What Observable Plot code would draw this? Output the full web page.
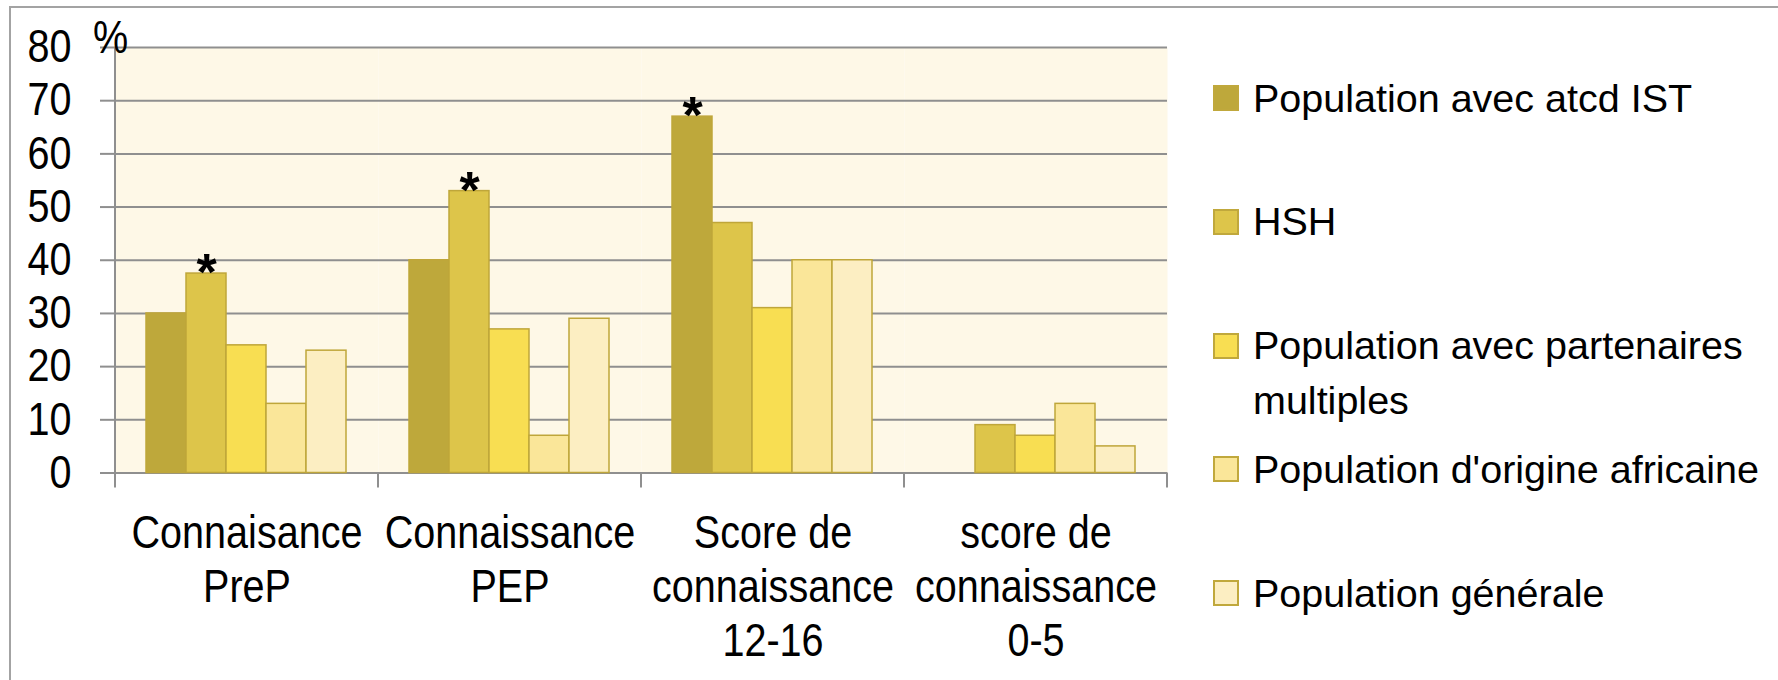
<!DOCTYPE html>
<html><head><meta charset="utf-8">
<script src="https://cdn.jsdelivr.net/npm/d3@7"></script>
<script src="https://cdn.jsdelivr.net/npm/@observablehq/plot@0.6"></script>
<style>
html,body{margin:0;padding:0;background:#fff;}
#wrap{position:relative;width:1778px;height:680px;overflow:hidden;background:#fff;}
#border{position:absolute;left:9px;top:6px;width:1800px;height:720px;border:2px solid #a3a3a3;box-sizing:border-box;}
#chart{position:absolute;left:0;top:0;}
#pct{position:absolute;left:93px;top:14px;font-family:"Liberation Sans",Arial,sans-serif;font-size:46px;line-height:46px;color:#000;transform:scaleX(0.86);transform-origin:left center;}
.lg{position:absolute;left:1213px;font-family:"Liberation Sans",Arial,sans-serif;font-size:39.5px;line-height:55px;color:#000;display:flex;align-items:flex-start;}
.lg .sw{width:26px;height:26px;box-sizing:border-box;border:2px solid #C0A83C;margin-top:14.5px;margin-right:14px;flex:none;}
.lg .tx{width:510px;}
</style>
</head><body>
<div id="wrap"><div id="border"></div><div id="chart"></div><div id="pct">%</div></div>
<script>
// ---- data ----
const categories = ["Connaisance PreP", "Connaissance PEP", "Score de connaissance 12-16", "score de connaissance 0-5"];
const categoryLabels = ["Connaisance\nPreP", "Connaissance\nPEP", "Score de\nconnaissance\n12-16", "score de\nconnaissance\n0-5"];
const series = ["Population avec atcd IST", "HSH", "Population avec partenaires multiples", "Population d'origine africaine", "Population générale"];
const atcdIST = [30, 40, 67, null];
const hsh = [37.5, 53, 47, 9];
const partenaires = [24, 27, 31, 7];
const africaine = [13, 7, 40, 13];
const generale = [23, 29, 40, 5];
const colors = ["#BEA83B", "#DDC54A", "#F8DE52", "#FAE699", "#FCEEC2"];
const yTicks = [0, 10, 20, 30, 40, 50, 60, 70, 80];
// significance asterisks: [category index, series index]
const significant = [[0, 1], [1, 1], [2, 0]];

const valuesBySeries = [atcdIST, hsh, partenaires, africaine, generale];
const data = series.flatMap((s, i) => categories.map((c, j) => ({category: c, series: s, value: valuesBySeries[i][j]})))
  .filter(d => d.value != null);
const sig = significant.map(([c, s]) => ({category: categories[c], series: series[s], value: valuesBySeries[s][c]}));

const FONT = '"Liberation Sans",Arial,sans-serif';
const W = 1778, H = 680, mL = 114, mR = 611, mT = 47, mB = 207.5;
const grid = "#8f8f8f";

const chart = Plot.plot({
  width: W, height: H, marginLeft: mL, marginRight: mR, marginTop: mT, marginBottom: mB,
  style: {fontFamily: FONT, fontSize: "46px", color: "#000", background: "transparent", overflow: "visible"},
  fx: {domain: categories, padding: 0, axis: null},
  x: {domain: series, padding: 0, insetLeft: 29.5, insetRight: 30, axis: null},
  y: {domain: [0, 80], axis: null},
  color: {domain: series, range: colors},
  marks: [
    Plot.frame({fill: "#FEF8E7", stroke: "none"}),
    Plot.ruleY(yTicks, {stroke: grid, strokeWidth: 2}),
    Plot.axisY({ticks: yTicks, tickSize: 15, tickPadding: 29, stroke: grid, strokeWidth: 2, fill: "#000", fontSize: 46, tickFormat: d => String(d), label: null}),
    Plot.barY(data, {fx: "category", x: "series", y: "value", fill: "series", stroke: "#BFA63A", strokeWidth: 1.5}),
    Plot.text(sig, {fx: "category", x: "series", y: "value", text: () => "*", fontFamily: FONT, fontWeight: "bold", fontSize: 52, fill: "#000"}),
    Plot.text(categories, {fx: d => d, text: (d, i) => categoryLabels[i], frameAnchor: "bottom", lineAnchor: "top", dy: 37, lineHeight: 1.174, fontSize: 46, fill: "#000"})
  ]
});
document.getElementById("chart").appendChild(chart);

// condense the axis and category text horizontally (narrow face), around each label's anchor
const NARROW = 0.86;
chart.querySelectorAll("text").forEach(t => {
  if (t.textContent.trim() === "*") return;
  const m = t.transform.baseVal.consolidate();
  const mx = m ? m.matrix : chart.createSVGMatrix();
  const x0 = t.x.baseVal.length ? t.x.baseVal[0].value : 0;
  const y0 = t.y.baseVal.length ? t.y.baseVal[0].value : 0;
  const ax = mx.a * x0 + mx.c * y0 + mx.e;
  const ay = mx.b * x0 + mx.d * y0 + mx.f;
  t.setAttribute("transform",
    `translate(${ax},${ay}) scale(${NARROW},1) translate(${-ax},${-ay}) matrix(${mx.a},${mx.b},${mx.c},${mx.d},${mx.e},${mx.f})`);
});

// axis line and category boundary ticks, from Plot's own scales
const fx = chart.scale("fx"), y = chart.scale("y");
const svg = d3.select(chart);
const yb = y.apply(0), yTop = y.apply(80);
const edges = categories.map(c => fx.apply(c));
edges.push(fx.apply(categories[categories.length - 1]) + fx.bandwidth);
svg.append("g").attr("stroke", grid).attr("stroke-width", 2)
  .selectAll("line").data(edges).join("line")
  .attr("x1", d => d).attr("x2", d => d)
  .attr("y1", (d, i) => i === 0 ? yTop : yb).attr("y2", yb + 15);

// legend
const wrap = document.getElementById("wrap");
series.forEach((s, i) => {
  const row = document.createElement("div");
  row.className = "lg";
  row.style.top = (98 + i * 123.75 - 27.5) + "px";
  row.innerHTML = `<div class="sw" style="background:${colors[i]}"></div><div class="tx"></div>`;
  row.querySelector(".tx").textContent = s;
  wrap.appendChild(row);
});
</script>
</body></html>
